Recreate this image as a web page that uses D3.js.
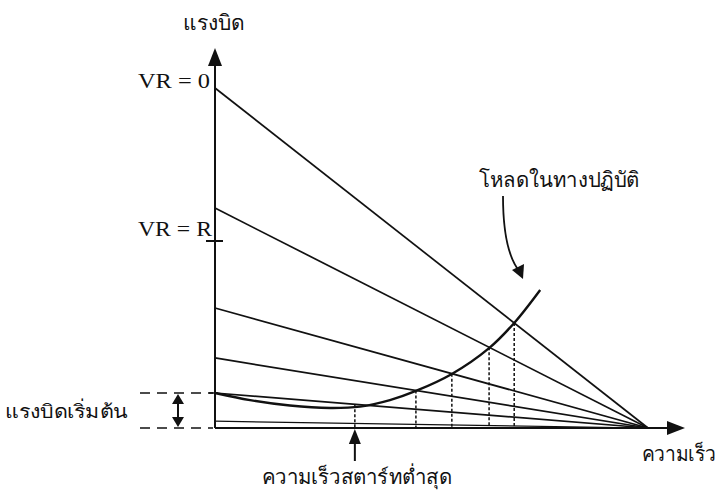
<!DOCTYPE html>
<html><head><meta charset="utf-8">
<script src="https://cdn.jsdelivr.net/npm/d3@7"></script>
<style>
html,body{margin:0;padding:0;background:#fff;}
svg{display:block;}
.th{font-family:"Noto Sans","DejaVu Sans",sans-serif;fill:#111;}
.vr{font-family:"Liberation Serif","DejaVu Serif",serif;fill:#111;}
</style></head>
<body>
<svg id="c" width="721" height="502"></svg>
<script>
// ---- data ----
// torque axis: VR = 0 line intercept = 100 units; speed: synchronous speed = 1
const lineNames = ["VR = 0", "VR = R", "", "", "", ""];
const lineIntercepts = [100, 64.7, 35.3, 20.6, 10.3, 2];
const loadSpeed  = [0, 0.081, 0.173, 0.266, 0.335, 0.404, 0.464, 0.547, 0.633, 0.691, 0.751];
const loadTorque = [10.3, 8.2, 6.6, 5.9, 6.3, 8.2, 10.9, 15.9, 23.5, 30.9, 40.6];
const crossSpeeds = [0.323, 0.464, 0.547, 0.633, 0.691];
const crossLineIdx = [4, 3, 2, 1, 0];
const labels = {
  yTitle: "แรงบิด", xTitle: "ความเร็ว", load: "โหลดในทางปฏิบัติ",
  start: "แรงบิดเริ่มต้น", minSpeed: "ความเร็วสตาร์ทต่ำสุด"
};

const svg = d3.select("#c");
const x = d3.scaleLinear().domain([0, 1]).range([215, 648]);
const y = d3.scaleLinear().domain([0, 100]).range([428, 88]);
const ink = "#111";

// axes
const x0 = x(0), yb = y(0);
svg.append("line").attr("x1",x0).attr("y1",yb).attr("x2",x0).attr("y2",64).attr("stroke",ink).attr("stroke-width",2);
svg.append("path").attr("d",`M${x0},48 L${x0-7},66 L${x0+7},66 Z`).attr("fill",ink);
svg.append("line").attr("x1",x0).attr("y1",yb).attr("x2",668).attr("y2",yb).attr("stroke",ink).attr("stroke-width",2);
svg.append("path").attr("d",`M685,${yb} L667,${yb-7} L667,${yb+7} Z`).attr("fill",ink);

// small axis ticks
svg.append("line").attr("x1",x0-9).attr("x2",x0+8).attr("y1",241).attr("y2",241).attr("stroke",ink).attr("stroke-width",2);
svg.append("line").attr("x1",x0-6).attr("x2",x0+3).attr("y1",y(lineIntercepts[4])).attr("y2",y(lineIntercepts[4])).attr("stroke",ink).attr("stroke-width",1.5);

// torque-speed lines
svg.selectAll("line.tl").data(lineIntercepts).join("line").attr("class","tl")
  .attr("x1",x(0)).attr("y1",d=>y(d)).attr("x2",x(1)).attr("y2",y(0))
  .attr("stroke",ink).attr("stroke-width",(d,i)=> i===5?1.2:1.7);

// dotted verticals at intersections
svg.selectAll("line.dv").data(crossSpeeds).join("line").attr("class","dv")
  .attr("x1",d=>x(d)).attr("x2",d=>x(d))
  .attr("y1",(d,i)=>y(lineIntercepts[crossLineIdx[i]]*(1-d))).attr("y2",yb)
  .attr("stroke",ink).attr("stroke-width",1.5).attr("stroke-dasharray","3,2");

// load curve
const pts = loadSpeed.map((s,i)=>[x(s), y(loadTorque[i])]);
svg.append("path").attr("d", d3.line().curve(d3.curveCatmullRom)(pts))
  .attr("fill","none").attr("stroke",ink).attr("stroke-width",2.4);

function txt(cls, xx, yy, anchor, size, s, len){
  const t = svg.append("text").attr("class",cls).attr("x",xx).attr("y",yy)
    .attr("text-anchor",anchor).attr("font-size",size).text(s);
  if (len) t.attr("textLength",len).attr("lengthAdjust","spacingAndGlyphs");
  return t;
}
// labels
txt("th",183,30,"start",21,labels.yTitle,62);
txt("th",642,461,"start",20,labels.xTitle,74);
txt("vr",138,88,"start",22,lineNames[0],72);
txt("vr",138,236,"start",22,lineNames[1],74);

// load label + curved arrow
txt("th",479,187,"start",21,labels.load,161);
svg.append("path").attr("d","M503,196 Q503,252 520,272").attr("fill","none").attr("stroke",ink).attr("stroke-width",1.8);
svg.append("path").attr("d","M523,279 L512,270 L524,264 Z").attr("fill",ink);

// starting torque annotation
const ys = y(lineIntercepts[4]);
txt("th",5,418,"start",19,labels.start,123);
[ys, yb].forEach(v=>{
  svg.append("line").attr("x1",140).attr("x2",213).attr("y1",v).attr("y2",v)
    .attr("stroke",ink).attr("stroke-width",1.5).attr("stroke-dasharray","10,7");
});
svg.append("line").attr("x1",178).attr("x2",178).attr("y1",ys+6).attr("y2",yb-6).attr("stroke",ink).attr("stroke-width",2);
svg.append("path").attr("d",`M178,${ys+1} L172,${ys+11} L184,${ys+11} Z`).attr("fill",ink);
svg.append("path").attr("d",`M178,${yb-1} L172,${yb-11} L184,${yb-11} Z`).attr("fill",ink);

// min start speed annotation
const xm = x(crossSpeeds[0]);
svg.append("line").attr("x1",xm).attr("x2",xm).attr("y1",461).attr("y2",440).attr("stroke",ink).attr("stroke-width",2);
svg.append("path").attr("d",`M${xm},429 L${xm-6},444 L${xm+6},444 Z`).attr("fill",ink);
txt("th",262,484,"start",20,labels.minSpeed,190);
</script>
</body></html>
